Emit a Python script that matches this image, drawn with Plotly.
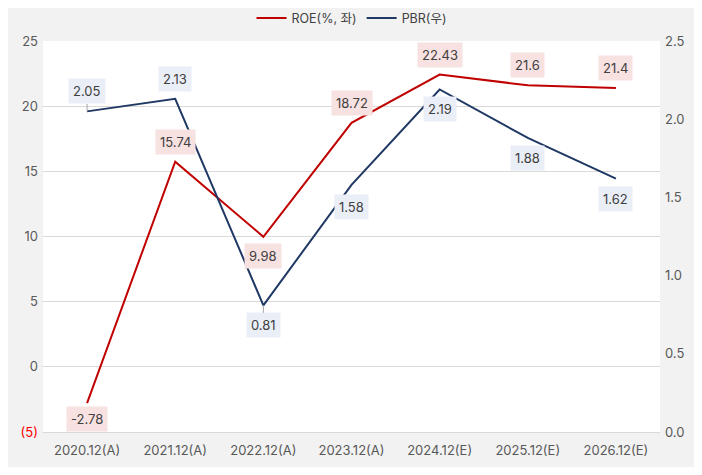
import plotly.graph_objects as go

categories = ["2020.12(A)", "2021.12(A)", "2022.12(A)", "2023.12(A)",
              "2024.12(E)", "2025.12(E)", "2026.12(E)"]
roe = [-2.78, 15.74, 9.98, 18.72, 22.43, 21.6, 21.4]
pbr = [2.05, 2.13, 0.81, 1.58, 2.19, 1.88, 1.62]

roe_offsets = [16, -20, 19, -20, -20, -20, -20]
pbr_offsets = [-20, -20, 20, 22, 20, 20, 20]
# only these labels are linked to their point by a short leader line
pbr_leaders = [True, False, True, False, False, False, False]

left_ticks = [-5, 0, 5, 10, 15, 20, 25]
left_ticktext = ["<span style='color:#ff0000'>(5)</span>", "0", "5", "10", "15", "20", "25"]
right_ticks = [0, 0.5, 1.0, 1.5, 2.0, 2.5]

RED = "#c00000"
NAVY = "#1f3864"
FONT = "Inter, Noto Sans CJK KR, sans-serif"


def label(x, y, yref, text, off, bg, leader=False):
    ann = dict(x=x, y=y, xref="x", yref=yref, text=text, bgcolor=bg, borderpad=4,
               font=dict(size=13, color="#404040"))
    if leader:
        ann.update(showarrow=True, ax=0, ay=off, arrowhead=0, arrowwidth=1,
                   arrowcolor="#a6a6a6")
    else:
        ann.update(showarrow=False, yshift=-off)
    return ann


fig = go.Figure()
fig.add_trace(go.Scatter(x=categories, y=roe, name="ROE(%, 좌)", mode="lines",
                         line=dict(color=RED, width=2), yaxis="y"))
fig.add_trace(go.Scatter(x=categories, y=pbr, name="PBR(우)", mode="lines",
                         line=dict(color=NAVY, width=2), yaxis="y2"))

annotations = []
for c, v, off in zip(categories, roe, roe_offsets):
    annotations.append(label(c, v, "y", f"{v:g}", off, "#f8e1e1"))
for c, v, off, ld in zip(categories, pbr, pbr_offsets, pbr_leaders):
    annotations.append(label(c, v, "y2", f"{v:.2f}", off, "#e9eef7", ld))

# page body keeps an 8px margin, so the figure is a bit smaller than the window
fig.update_layout(
    width=686, height=459,
    paper_bgcolor="#f2f2f2", plot_bgcolor="#ffffff",
    font=dict(family=FONT, size=13, color="#404040"),
    margin=dict(l=35, r=34, t=33, b=35, autoexpand=False),
    showlegend=True,
    legend=dict(orientation="h", x=0.5, xanchor="center", y=1.058, yanchor="middle",
                font=dict(size=12.5, color="#404040"), bgcolor="rgba(0,0,0,0)"),
    xaxis=dict(range=[-0.5, 6.5], showgrid=False, showline=True, linecolor="#d9d9d9",
               ticks="", ticklabelstandoff=6,
               tickfont=dict(size=13, color="#595959")),
    yaxis=dict(range=[-5, 25], tickvals=left_ticks, ticktext=left_ticktext,
               showgrid=True, gridcolor="#d9d9d9", zeroline=False, ticks="",
               ticklabelstandoff=4, tickfont=dict(size=13, color="#595959")),
    yaxis2=dict(range=[0, 2.5], tickvals=right_ticks, tickformat=".1f",
                overlaying="y", side="right", showgrid=False, zeroline=False,
                ticks="", ticklabelstandoff=4,
                tickfont=dict(size=13, color="#595959")),
    annotations=annotations,
)

fig.write_html("out.html")
